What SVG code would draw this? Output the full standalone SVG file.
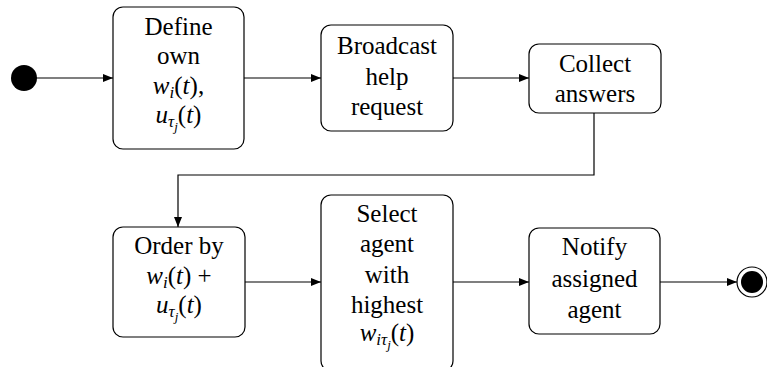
<svg xmlns="http://www.w3.org/2000/svg" width="767" height="367" viewBox="0 0 767 367" font-family="Liberation Serif, Times New Roman, DejaVu Serif, serif" font-size="25">
  <style>
    .box { fill: #fff; stroke: #000; stroke-width: 1.2; }
    .edge { fill: none; stroke: #000; stroke-width: 1.2; marker-end: url(#arrow); }
    .lbl { font-family: 'Liberation Serif', 'Times New Roman', serif; font-size: 25px; fill: #000; text-anchor: middle; }
    .m { font-style: italic; }
    .sub { font-size: 17px; font-style: italic; }
    .subsub { font-size: 13px; font-style: italic; }
  </style>
  <defs>
    <marker id="arrow" viewBox="0 0 10 8" refX="10" refY="4" markerWidth="10" markerHeight="8" markerUnits="userSpaceOnUse" orient="auto">
      <path d="M0,0 L10,4 L0,8 Z" fill="#000"/>
    </marker>
  </defs>

  <!-- transitions -->
  <g id="connectors">
    <line class="edge" x1="36" y1="78" x2="113" y2="78"/>
    <line class="edge" x1="244" y1="78" x2="321" y2="78"/>
    <line class="edge" x1="453" y1="78" x2="529" y2="78"/>
    <path class="edge" d="M594,113 V175 H178 V227"/>
    <line class="edge" x1="245" y1="282" x2="321" y2="282"/>
    <line class="edge" x1="453" y1="282" x2="529" y2="282"/>
    <line class="edge" x1="660" y1="282" x2="737" y2="282"/>
  </g>

  <!-- initial state -->
  <g id="start">
    <circle cx="24" cy="78" r="13" fill="#000"/>
  </g>

  <g id="define">
    <rect class="box" x="113" y="7" width="131" height="142" rx="10"/>
    <text class="lbl" x="178.5" y="35">Define</text>
    <text class="lbl" x="178.5" y="64">own</text>
    <text class="lbl" x="178.5" y="94"><tspan class="m">w</tspan><tspan class="sub" dy="4">i</tspan><tspan dy="-4">(</tspan><tspan class="m">t</tspan>),</text>
    <text class="lbl" x="178.5" y="123"><tspan class="m">u</tspan><tspan class="sub" dy="4">τ</tspan><tspan class="subsub" dy="4">j</tspan><tspan dy="-8">(</tspan><tspan class="m">t</tspan>)</text>
  </g>

  <g id="broadcast">
    <rect class="box" x="321" y="25" width="132" height="106" rx="10"/>
    <text class="lbl" x="387" y="54">Broadcast</text>
    <text class="lbl" x="387" y="85">help</text>
    <text class="lbl" x="387" y="115">request</text>
  </g>

  <g id="collect">
    <rect class="box" x="529" y="44" width="132" height="69" rx="10"/>
    <text class="lbl" x="595" y="72">Collect</text>
    <text class="lbl" x="595" y="102">answers</text>
  </g>

  <g id="order">
    <rect class="box" x="113" y="227" width="132" height="110" rx="10"/>
    <text class="lbl" x="179" y="254">Order by</text>
    <text class="lbl" x="179" y="284"><tspan class="m">w</tspan><tspan class="sub" dy="4">i</tspan><tspan dy="-4">(</tspan><tspan class="m">t</tspan>) +</text>
    <text class="lbl" x="179" y="313"><tspan class="m">u</tspan><tspan class="sub" dy="4">τ</tspan><tspan class="subsub" dy="4">j</tspan><tspan dy="-8">(</tspan><tspan class="m">t</tspan>)</text>
  </g>

  <g id="select">
    <rect class="box" x="321" y="195" width="132" height="176" rx="10"/>
    <text class="lbl" x="387" y="222">Select</text>
    <text class="lbl" x="387" y="252">agent</text>
    <text class="lbl" x="387" y="283">with</text>
    <text class="lbl" x="387" y="313">highest</text>
    <text class="lbl" x="387" y="341"><tspan class="m">w</tspan><tspan class="sub" dy="4">i</tspan><tspan class="sub">τ</tspan><tspan class="subsub" dy="4">j</tspan><tspan dy="-8">(</tspan><tspan class="m">t</tspan>)</text>
  </g>

  <g id="notify">
    <rect class="box" x="529" y="228" width="131" height="106" rx="10"/>
    <text class="lbl" x="594.5" y="255">Notify</text>
    <text class="lbl" x="594.5" y="287">assigned</text>
    <text class="lbl" x="594.5" y="318">agent</text>
  </g>

  <!-- final state -->
  <g id="end">
    <circle cx="752" cy="282" r="15" fill="#fff" stroke="#000" stroke-width="1.2"/>
    <circle cx="752" cy="282" r="11" fill="#000"/>
  </g>
</svg>
